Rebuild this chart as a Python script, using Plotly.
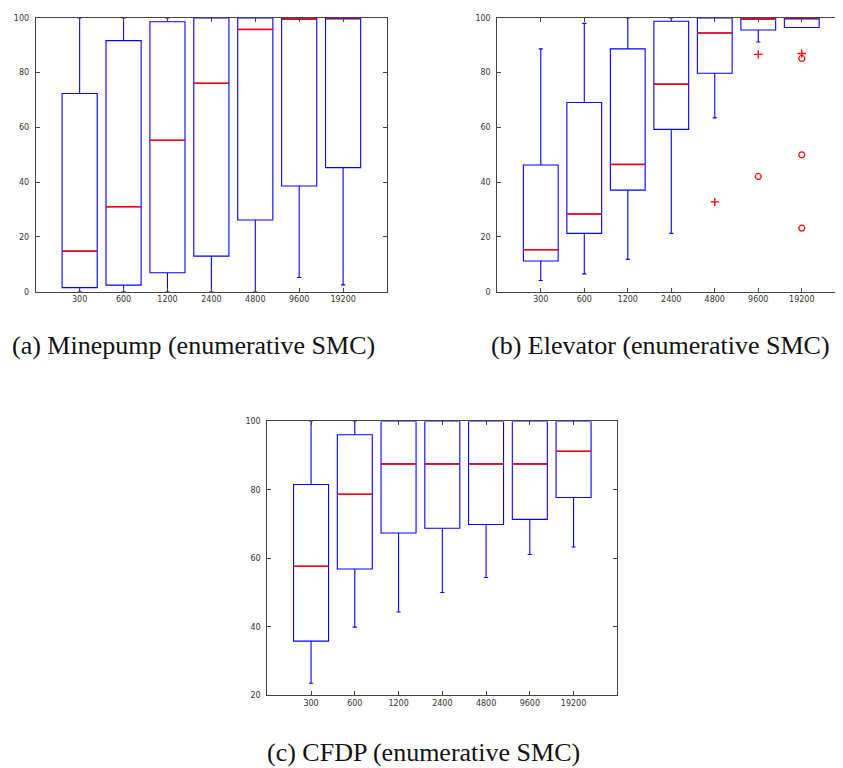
import plotly.graph_objects as go

categories = ["300", "600", "1200", "2400", "4800", "9600", "19200"]

# (a) Minepump
a_low = [0, 0, 0, 0, 0, 5.2, 2.5]
a_q1 = [1.5, 2.4, 6.9, 13.0, 26.2, 38.6, 45.3]
a_med = [14.8, 31.0, 55.3, 76.1, 95.8, 99.5, 100]
a_q3 = [72.4, 91.7, 98.6, 100, 100, 100, 100]
a_high = [100, 100, 100, 100, 100, 100, 100]

# (b) Elevator
b_low = [4.1, 6.5, 11.8, 21.3, 63.5, 91.2, 96.5]
b_q1 = [11.2, 21.3, 37.1, 59.3, 79.8, 95.6, 96.5]
b_med = [15.3, 28.4, 46.5, 75.8, 94.5, 99.5, 100]
b_q3 = [46.3, 69.1, 88.7, 98.8, 100, 100, 100]
b_high = [88.7, 98.0, 100, 100, 100, 100, 100]
b_plus_x = ["4800", "9600", "19200"]
b_plus_y = [32.8, 86.7, 87.0]
b_circ_x = ["9600", "19200", "19200", "19200"]
b_circ_y = [42.1, 85.2, 50.0, 23.2]

# (c) CFDP
c_low = [23.5, 39.9, 44.3, 50.0, 54.4, 61.1, 63.3]
c_q1 = [35.8, 56.9, 67.4, 68.8, 69.9, 71.4, 77.8]
c_med = [57.7, 78.7, 87.6, 87.6, 87.6, 87.6, 91.3]
c_q3 = [81.6, 96.1, 100, 100, 100, 100, 100]
c_high = [100, 100, 100, 100, 100, 100, 100]

captions = ["(a) Minepump (enumerative SMC)", "(b) Elevator (enumerative SMC)", "(c) CFDP (enumerative SMC)"]

BLUE = "#0000ff"
RED = "#ff0000"

fig = go.Figure()

panels = [
    ("x", "y", a_low, a_q1, a_med, a_q3, a_high),
    ("x2", "y2", b_low, b_q1, b_med, b_q3, b_high),
    ("x3", "y3", c_low, c_q1, c_med, c_q3, c_high),
]
for xa, ya, lo, q1, med, q3, hi in panels:
    fig.add_trace(go.Box(
        x=categories, q1=q1, median=med, q3=q3, lowerfence=lo, upperfence=hi,
        xaxis=xa, yaxis=ya, width=0.8, whiskerwidth=0.12,
        line=dict(color=BLUE, width=1.1), fillcolor="rgba(0,0,0,0)",
        boxpoints=False, showlegend=False, hoverinfo="skip"))
    fig.add_trace(go.Box(
        x=categories, q1=med, median=med, q3=med, lowerfence=med, upperfence=med,
        xaxis=xa, yaxis=ya, width=0.8, whiskerwidth=0,
        line=dict(color=RED, width=1.5), fillcolor="rgba(0,0,0,0)",
        boxpoints=False, showlegend=False, hoverinfo="skip"))

fig.add_trace(go.Scatter(
    x=b_plus_x, y=b_plus_y, xaxis="x2", yaxis="y2", mode="markers",
    marker=dict(symbol="cross-thin-open", size=6, color=RED, line=dict(color=RED, width=1.3)),
    showlegend=False, hoverinfo="skip"))
fig.add_trace(go.Scatter(
    x=b_circ_x, y=b_circ_y, xaxis="x2", yaxis="y2", mode="markers",
    marker=dict(symbol="circle-open", size=6, color=RED, line=dict(color=RED, width=1.2)),
    showlegend=False, hoverinfo="skip"))

axis_common = dict(showline=True, mirror="ticks", linecolor="#444444", linewidth=1,
                   ticks="inside", ticklen=4, tickcolor="#444444",
                   showgrid=False, zeroline=False,
                   tickfont=dict(family="DejaVu Sans", size=8, color="#333333"))

fig.update_layout(
    width=843, height=768, margin=dict(l=0, r=0, t=0, b=0),
    paper_bgcolor="white", plot_bgcolor="white", boxmode="overlay",
    xaxis=dict(domain=[0.0329, 0.4496], anchor="y", type="category",
               categoryorder="array", categoryarray=categories, range=[-1, 7], **axis_common),
    yaxis=dict(domain=[0.6315, 0.9922], anchor="x", range=[0, 100],
               tickvals=[0, 20, 40, 60, 80, 100], ticklabelstandoff=4, **axis_common),
    xaxis2=dict(domain=[0.5804, 0.9932], anchor="y2", type="category",
                categoryorder="array", categoryarray=categories, range=[-1, 7], **axis_common),
    yaxis2=dict(domain=[0.6315, 0.9922], anchor="x2", range=[0, 100],
                tickvals=[0, 20, 40, 60, 80, 100], ticklabelstandoff=4, **axis_common),
    xaxis3=dict(domain=[0.3076, 0.7228], anchor="y3", type="category",
                categoryorder="array", categoryarray=categories, range=[-1, 7], **axis_common),
    yaxis3=dict(domain=[0.0999, 0.4605], anchor="x3", range=[20, 100],
                tickvals=[20, 40, 60, 80, 100], ticklabelstandoff=4, **axis_common),
)

cap_font = dict(family="Liberation Serif", size=26, color="#111111")
fig.add_annotation(text=captions[0], x=3 / 843, y=1 - 337 / 768, xref="paper", yref="paper",
                   showarrow=False, font=cap_font, xanchor="left", yanchor="middle", borderpad=0)
fig.add_annotation(text=captions[1], x=823 / 843, y=1 - 337 / 768, xref="paper", yref="paper",
                   showarrow=False, font=cap_font, xanchor="right", yanchor="middle", borderpad=0)
fig.add_annotation(text=captions[2], x=258 / 843, y=1 - 749 / 768, xref="paper", yref="paper",
                   showarrow=False, font=cap_font, xanchor="left", yanchor="middle", borderpad=0)

fig.write_html("out.html")
